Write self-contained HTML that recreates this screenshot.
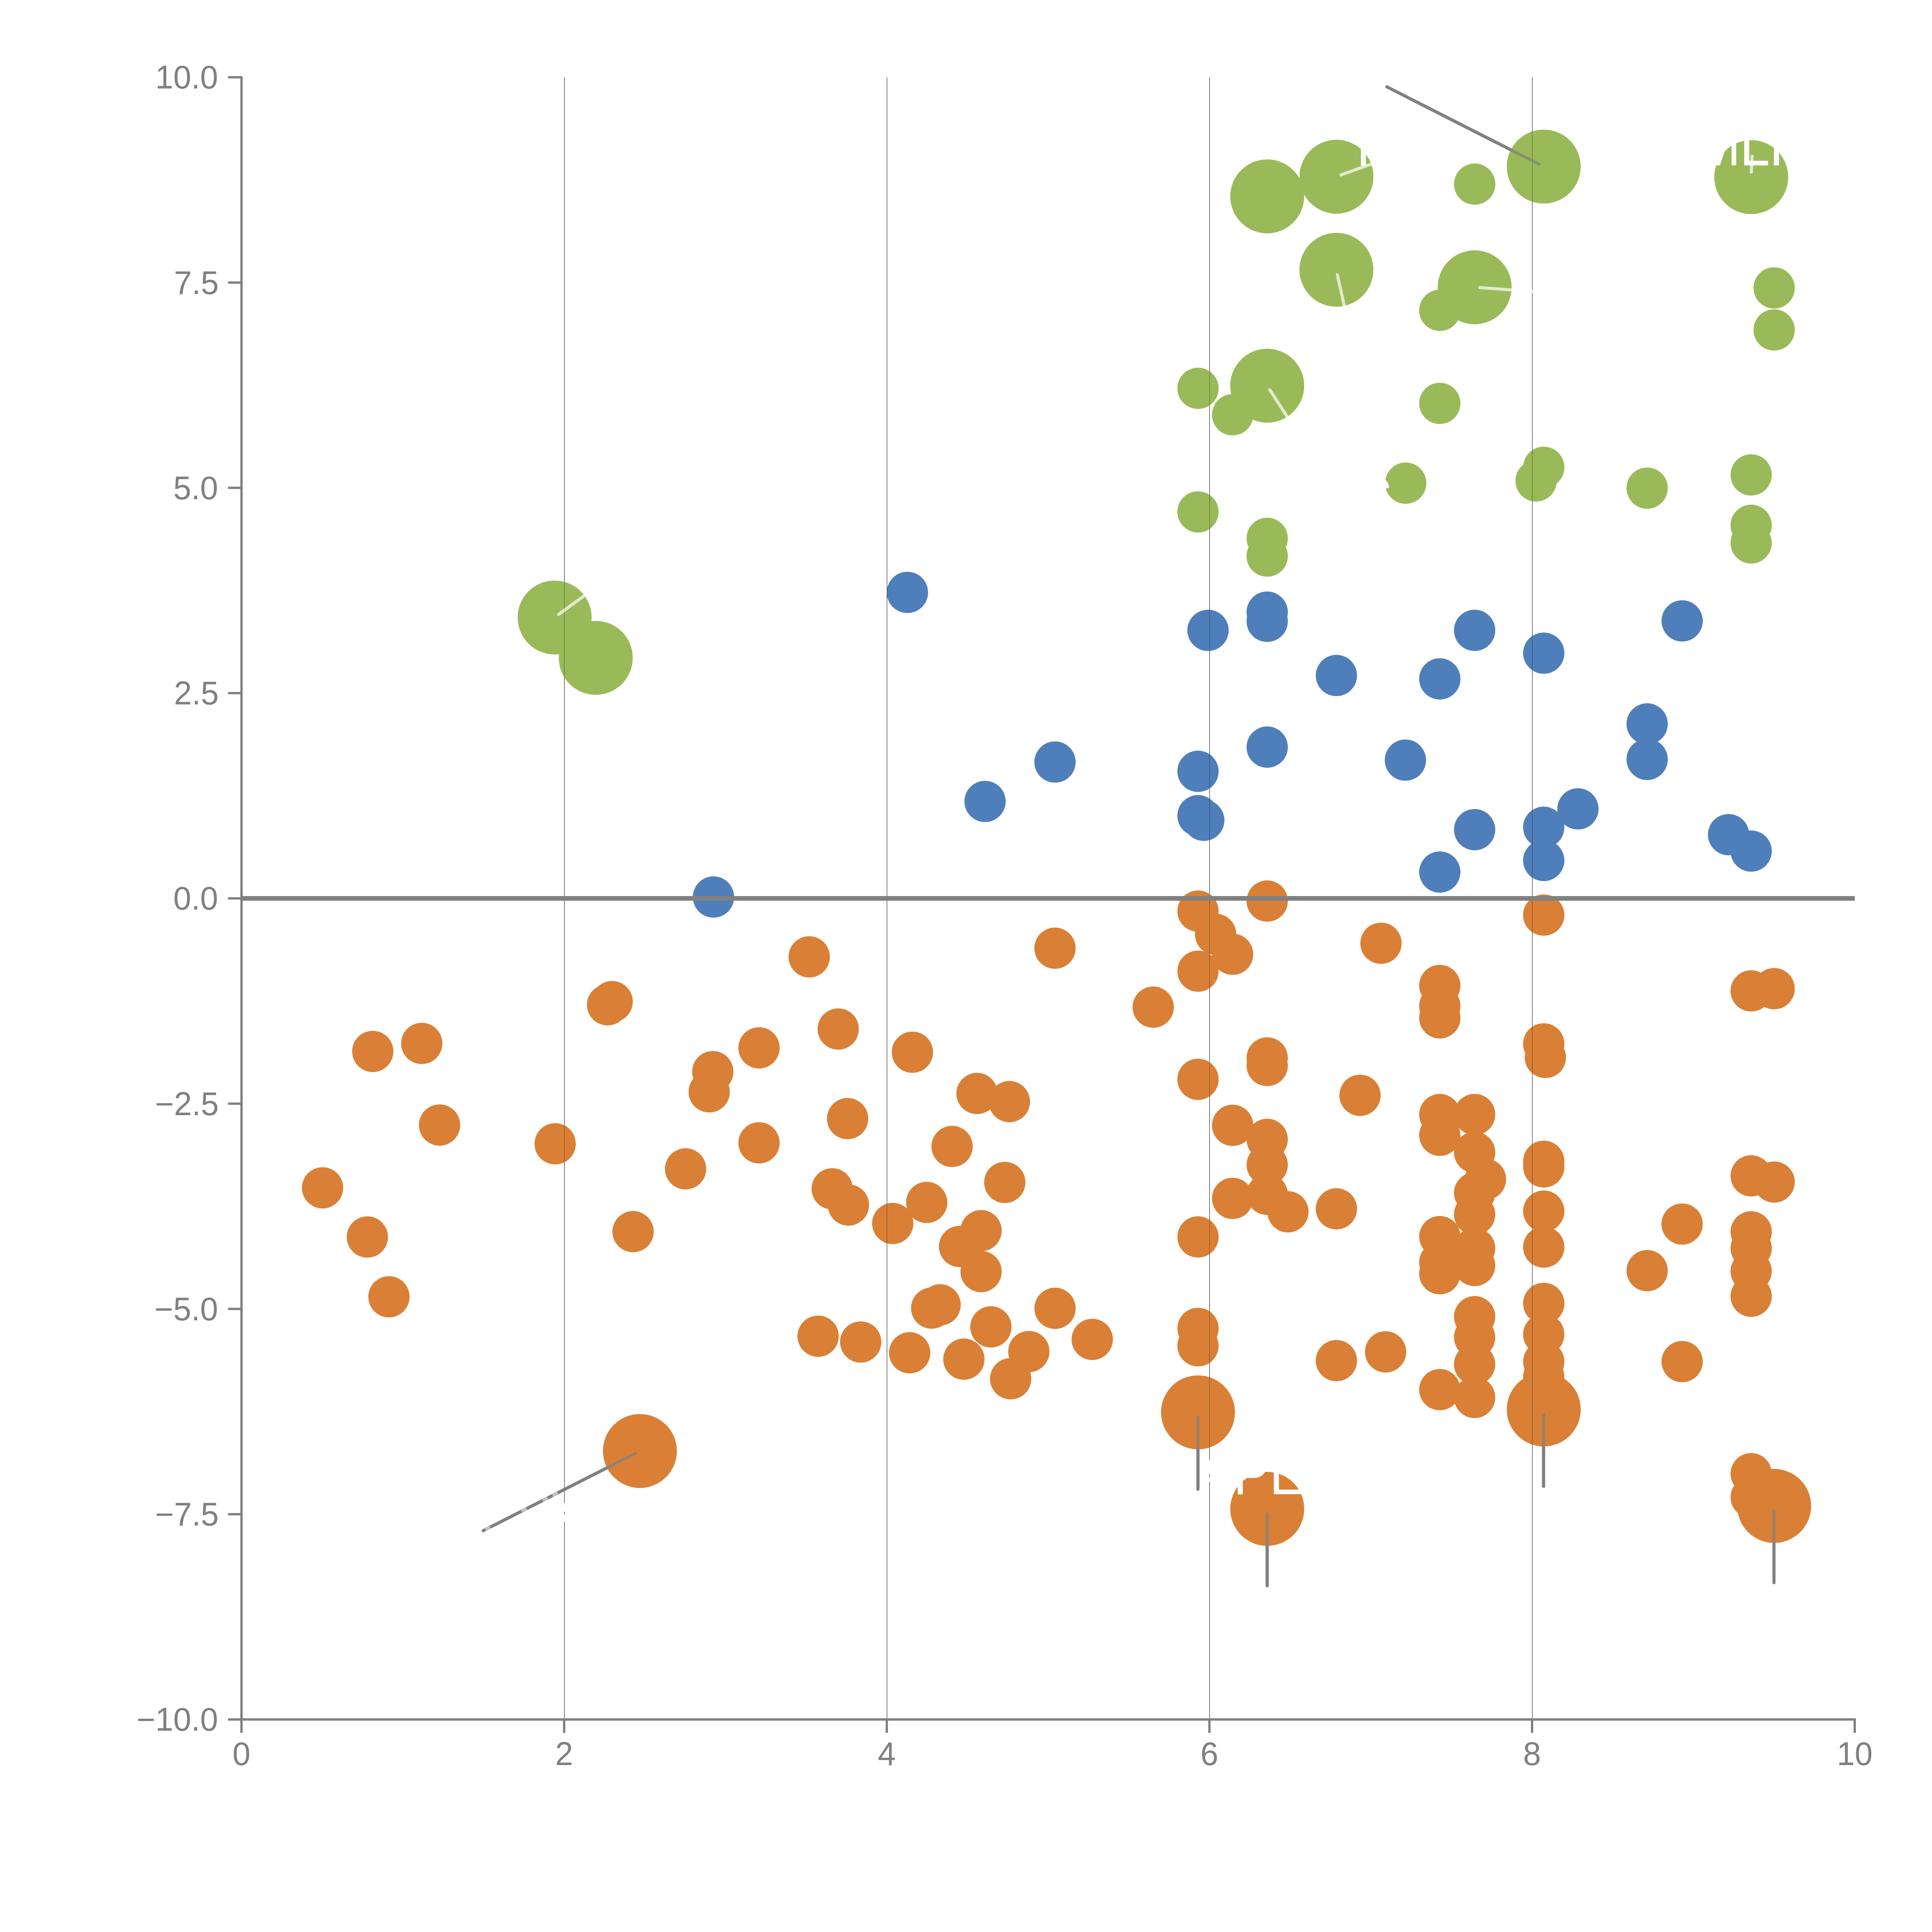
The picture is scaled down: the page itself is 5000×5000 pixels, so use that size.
<!DOCTYPE html>
<html><head><meta charset="utf-8"><title>chart</title>
<style>html,body{margin:0;padding:0;background:#fff}svg{display:block}text{font-family:"Liberation Sans",sans-serif}</style></head><body>
<svg width="5000" height="5000" viewBox="0 0 5000 5000">
<rect width="5000" height="5000" fill="#fff"/>
<g fill="#000">
<rect x="1460" y="200" width="1" height="4250"/>
<rect x="2295" y="200" width="1" height="4250"/>
<rect x="3130" y="200" width="1" height="4250"/>
<rect x="3965" y="200" width="1" height="4250"/>
</g>
<g stroke="#808080" stroke-width="8" stroke-linecap="round">
<line x1="3589.3" y1="224.8" x2="3983" y2="424.8"/>
<line x1="1250.5" y1="3961.5" x2="1643.9" y2="3761.7"/>
<line x1="3994.7" y1="3661.2" x2="3994.7" y2="3846.6"/>
<line x1="4591" y1="3910.8" x2="4591" y2="4096"/>
<line x1="3100.3" y1="3668.5" x2="3100.3" y2="3854.3"/>
<line x1="3279.4" y1="3917.8" x2="3279.4" y2="4103.8"/>
</g>
<g fill="#9aba59">
<circle cx="3279.5" cy="508.2" r="95.7"/>
<circle cx="3458.7" cy="457.3" r="95.7"/>
<circle cx="3458.6" cy="698.2" r="95.7"/>
<circle cx="3816.4" cy="743.5" r="95.7"/>
<circle cx="3279.5" cy="998.2" r="95.7"/>
<circle cx="3995.2" cy="431.1" r="95.7"/>
<circle cx="4532.2" cy="458.4" r="95.7"/>
<circle cx="1435.4" cy="1598.1" r="95.7"/>
<circle cx="1541.8" cy="1702.5" r="95.7"/>
</g>
<g fill="#9aba59">
<circle cx="3816.5" cy="476.5" r="53.4"/>
<circle cx="3726.2" cy="803.2" r="53.4"/>
<circle cx="3100.4" cy="1005" r="53.4"/>
<circle cx="3190" cy="1073.4" r="53.4"/>
<circle cx="3726.2" cy="1043.9" r="53.4"/>
<circle cx="4591.5" cy="745.2" r="53.4"/>
<circle cx="4591.5" cy="853.9" r="53.4"/>
<circle cx="3995.2" cy="1209.4" r="53.4"/>
<circle cx="3975.4" cy="1244.6" r="53.4"/>
<circle cx="4262.8" cy="1263.3" r="53.4"/>
<circle cx="4532" cy="1229.1" r="53.4"/>
<circle cx="4532" cy="1359.5" r="53.4"/>
<circle cx="4532" cy="1405.1" r="53.4"/>
<circle cx="3638" cy="1250.4" r="53.4"/>
<circle cx="3100.4" cy="1324.8" r="53.4"/>
<circle cx="3279.5" cy="1393.2" r="53.4"/>
<circle cx="3279.5" cy="1439.2" r="53.4"/>
</g>
<g fill="#4e7fbb">
<circle cx="4353.4" cy="1606.9" r="53.4"/>
<circle cx="3995.2" cy="1690.3" r="53.4"/>
<circle cx="4262.8" cy="1873.5" r="53.4"/>
<circle cx="4262.8" cy="1965.3" r="53.4"/>
<circle cx="4083.7" cy="2093.4" r="53.4"/>
<circle cx="3995.2" cy="2141" r="53.4"/>
<circle cx="3995.2" cy="2226.9" r="53.4"/>
<circle cx="4473.5" cy="2160.1" r="53.4"/>
<circle cx="4532" cy="2202.6" r="53.4"/>
<circle cx="3279.5" cy="1584.2" r="53.4"/>
<circle cx="3279.5" cy="1608" r="53.4"/>
<circle cx="3126.3" cy="1631.3" r="53.4"/>
<circle cx="3816.3" cy="1631.3" r="53.4"/>
<circle cx="3458.6" cy="1748.2" r="53.4"/>
<circle cx="3726.2" cy="1757" r="53.4"/>
<circle cx="3279.5" cy="1933.5" r="53.4"/>
<circle cx="3637.2" cy="1967.2" r="53.4"/>
<circle cx="3100.4" cy="1996.2" r="53.4"/>
<circle cx="3100.4" cy="2111" r="53.4"/>
<circle cx="3115.4" cy="2122.9" r="53.4"/>
<circle cx="3816.3" cy="2147.2" r="53.4"/>
<circle cx="3726.2" cy="2256.9" r="53.4"/>
<circle cx="2348.4" cy="1533.2" r="53.4"/>
<circle cx="2730.4" cy="1972.2" r="53.4"/>
<circle cx="2549.3" cy="2074.1" r="53.4"/>
<circle cx="1846.5" cy="2321.4" r="53.4"/>
</g>
<g fill="#d98036">
<circle cx="3995.2" cy="2368.2" r="53.4"/>
<circle cx="4532" cy="2564.4" r="53.4"/>
<circle cx="4591.5" cy="2558.7" r="53.4"/>
<circle cx="3995.2" cy="2701.6" r="53.4"/>
<circle cx="3999.4" cy="2736.7" r="53.4"/>
<circle cx="3995.2" cy="3005.4" r="53.4"/>
<circle cx="3995.2" cy="3020" r="53.4"/>
<circle cx="3995.2" cy="3134.4" r="53.4"/>
<circle cx="3995.2" cy="3227.5" r="53.4"/>
<circle cx="3995.2" cy="3373.2" r="53.4"/>
<circle cx="3995.2" cy="3453.5" r="53.4"/>
<circle cx="3995.2" cy="3524.3" r="53.4"/>
<circle cx="3995.2" cy="3563" r="53.4"/>
<circle cx="4353.4" cy="3167.8" r="53.4"/>
<circle cx="4262.8" cy="3288.4" r="53.4"/>
<circle cx="4353.4" cy="3523.9" r="53.4"/>
<circle cx="4532" cy="3043.1" r="53.4"/>
<circle cx="4591.5" cy="3059.1" r="53.4"/>
<circle cx="4532" cy="3188" r="53.4"/>
<circle cx="4532" cy="3230.4" r="53.4"/>
<circle cx="4532" cy="3290" r="53.4"/>
<circle cx="4532" cy="3354.7" r="53.4"/>
<circle cx="4532" cy="3813.9" r="53.4"/>
<circle cx="4532" cy="3875" r="53.4"/>
<circle cx="3100.4" cy="2358" r="53.4"/>
<circle cx="3279.5" cy="2332" r="53.4"/>
<circle cx="3146" cy="2418" r="53.4"/>
<circle cx="3190" cy="2469.7" r="53.4"/>
<circle cx="3100.4" cy="2513.3" r="53.4"/>
<circle cx="3574" cy="2441.2" r="53.4"/>
<circle cx="3726.2" cy="2550.4" r="53.4"/>
<circle cx="3726.2" cy="2603.2" r="53.4"/>
<circle cx="3726.2" cy="2634.3" r="53.4"/>
<circle cx="2984.5" cy="2606.5" r="53.4"/>
<circle cx="3279.5" cy="2737.8" r="53.4"/>
<circle cx="3279.5" cy="2757.5" r="53.4"/>
<circle cx="3100.4" cy="2793.3" r="53.4"/>
<circle cx="3519.7" cy="2834.6" r="53.4"/>
<circle cx="3726.2" cy="2884.5" r="53.4"/>
<circle cx="3816.3" cy="2884.3" r="53.4"/>
<circle cx="3190" cy="2912.4" r="53.4"/>
<circle cx="3279.5" cy="2948.7" r="53.4"/>
<circle cx="3279.5" cy="3014.5" r="53.4"/>
<circle cx="3279.5" cy="3091" r="53.4"/>
<circle cx="3190" cy="3101.4" r="53.4"/>
<circle cx="3333.2" cy="3136.1" r="53.4"/>
<circle cx="3458.6" cy="3128.5" r="53.4"/>
<circle cx="3100.4" cy="3201.2" r="53.4"/>
<circle cx="3100.4" cy="3437.9" r="53.4"/>
<circle cx="3100.4" cy="3482.9" r="53.4"/>
<circle cx="3458.6" cy="3521.3" r="53.4"/>
<circle cx="3585.9" cy="3498.6" r="53.4"/>
<circle cx="3726.2" cy="2938.1" r="53.4"/>
<circle cx="3816.3" cy="2982.4" r="53.4"/>
<circle cx="3844.4" cy="3052" r="53.4"/>
<circle cx="3816.3" cy="3087.2" r="53.4"/>
<circle cx="3816.3" cy="3143" r="53.4"/>
<circle cx="3726.2" cy="3200.3" r="53.4"/>
<circle cx="3816.3" cy="3230.8" r="53.4"/>
<circle cx="3726.2" cy="3267" r="53.4"/>
<circle cx="3816.3" cy="3275.2" r="53.4"/>
<circle cx="3726.2" cy="3296.4" r="53.4"/>
<circle cx="3816.3" cy="3407.5" r="53.4"/>
<circle cx="3816.3" cy="3461" r="53.4"/>
<circle cx="3816.3" cy="3530.8" r="53.4"/>
<circle cx="3726.2" cy="3596.4" r="53.4"/>
<circle cx="3816.3" cy="3616.6" r="53.4"/>
<circle cx="964.7" cy="2721.1" r="53.4"/>
<circle cx="1091.5" cy="2700.4" r="53.4"/>
<circle cx="1137.6" cy="2911.6" r="53.4"/>
<circle cx="1436.7" cy="2960.2" r="53.4"/>
<circle cx="834.8" cy="3074.1" r="53.4"/>
<circle cx="950.7" cy="3201.4" r="53.4"/>
<circle cx="1006.6" cy="3356.1" r="53.4"/>
<circle cx="1584.3" cy="2592.2" r="53.4"/>
<circle cx="1572.4" cy="2600.5" r="53.4"/>
<circle cx="1638.4" cy="3187.5" r="53.4"/>
<circle cx="2094.2" cy="2476.3" r="53.4"/>
<circle cx="2169.3" cy="2663.1" r="53.4"/>
<circle cx="1964.3" cy="2711.8" r="53.4"/>
<circle cx="1844.7" cy="2773.4" r="53.4"/>
<circle cx="1835.4" cy="2825.7" r="53.4"/>
<circle cx="2361.3" cy="2723.2" r="53.4"/>
<circle cx="2193.6" cy="2895" r="53.4"/>
<circle cx="1964.3" cy="2957.7" r="53.4"/>
<circle cx="1774.3" cy="3025" r="53.4"/>
<circle cx="2464" cy="2967" r="53.4"/>
<circle cx="2153.7" cy="3076.7" r="53.4"/>
<circle cx="2195.7" cy="3118.6" r="53.4"/>
<circle cx="2398.3" cy="3111.9" r="53.4"/>
<circle cx="2310.4" cy="3166.3" r="53.4"/>
<circle cx="2528.5" cy="2830" r="53.4"/>
<circle cx="2483.3" cy="3225.9" r="53.4"/>
<circle cx="2730.3" cy="2454" r="53.4"/>
<circle cx="2612.3" cy="2851" r="53.4"/>
<circle cx="2600.4" cy="3060.1" r="53.4"/>
<circle cx="2539" cy="3185" r="53.4"/>
<circle cx="2539" cy="3290.8" r="53.4"/>
<circle cx="2117.3" cy="3458.1" r="53.4"/>
<circle cx="2227.5" cy="3473.1" r="53.4"/>
<circle cx="2354.2" cy="3501" r="53.4"/>
<circle cx="2494.5" cy="3517.5" r="53.4"/>
<circle cx="2433" cy="3377" r="53.4"/>
<circle cx="2411.2" cy="3385.5" r="53.4"/>
<circle cx="2564.4" cy="3434" r="53.4"/>
<circle cx="2730.4" cy="3386" r="53.4"/>
<circle cx="2826.7" cy="3466.3" r="53.4"/>
<circle cx="2662.6" cy="3497.8" r="53.4"/>
<circle cx="2615.5" cy="3568.2" r="53.4"/>
</g>
<g fill="#d98036">
<circle cx="3995.2" cy="3647.7" r="95.7"/>
<circle cx="4591.5" cy="3897.3" r="95.7"/>
<circle cx="3100.4" cy="3655.1" r="95.7"/>
<circle cx="3279.6" cy="3905" r="95.7"/>
<circle cx="1656.1" cy="3755.2" r="95.7"/>
</g>
<g fill="#000" fill-opacity="0.5">
<rect x="1460" y="200" width="1" height="4250"/>
<rect x="2295" y="200" width="1" height="4250"/>
<rect x="3130" y="200" width="1" height="4250"/>
<rect x="3965" y="200" width="1" height="4250"/>
</g>
<g fill="#fff" font-size="140px">
<text transform="translate(3098.5,3866.6) scale(1,1.13)" x="0" y="0">AP</text>
<text transform="translate(3285.2,3866.6) scale(1,1.13)" x="0" y="0">L</text>
<rect x="3355" y="3854.8" width="13" height="11.8"/>
<text transform="translate(4388.1,428.1) scale(1,1.13)" x="0" y="0">M</text>
<text transform="translate(4502.5,428.1) scale(1,1.13)" x="0" y="0">L</text>
<text transform="translate(4578,428.1) scale(1,1.13)" x="0" y="0">I</text>
<text transform="translate(3509,428.8) scale(1,1.13)" x="0" y="0">I</text>
</g>
<g stroke="#808080" stroke-width="8" stroke-linecap="round" stroke-opacity="0.7">
<line x1="3589.3" y1="224.8" x2="3983" y2="424.8"/>
<line x1="1250.5" y1="3961.5" x2="1643.9" y2="3761.7"/>
<line x1="3994.7" y1="3661.2" x2="3994.7" y2="3846.6"/>
<line x1="4591" y1="3910.8" x2="4591" y2="4096"/>
<line x1="3100.3" y1="3668.5" x2="3100.3" y2="3854.3"/>
<line x1="3279.4" y1="3917.8" x2="3279.4" y2="4103.8"/>
</g>
<g stroke="#fff" stroke-width="8" stroke-linecap="round" stroke-opacity="0.7">
<line x1="1445.8" y1="1589.9" x2="1530" y2="1528.7"/>
<line x1="3470.7" y1="452.6" x2="3560" y2="420.9"/>
<line x1="4532.5" y1="445.2" x2="4534.5" y2="404.3"/>
<line x1="3461.1" y1="711.2" x2="3481" y2="800.5"/>
<line x1="3286.3" y1="1008.9" x2="3336" y2="1085.9"/>
<line x1="3829.7" y1="744.2" x2="3975" y2="755.1"/>
</g>
<g stroke="#c0c0c0" stroke-width="8">
<line x1="1256.0" y1="3958.7" x2="1268.5" y2="3952.4"/>
<line x1="1349.6" y1="3911.2" x2="1363.0" y2="3904.4"/>
<line x1="1404.5" y1="3883.3" x2="1417.4" y2="3876.7"/>
<line x1="1430.3" y1="3870.2" x2="1443.3" y2="3863.6"/>
</g>
<g fill="#fff"><rect x="1458" y="3890" width="5" height="22"/><rect x="1458" y="3918.7" width="5" height="19.5"/></g>
<path d="M3584,1240 Q3595,1250 3595,1263.2 L3584,1264 Z" fill="#fff"/>
<rect x="625" y="2319" width="4175" height="12" fill="#808080"/>
<g fill="#808080">
<rect x="622" y="197" width="6" height="4256"/>
<rect x="622" y="4447" width="4181" height="6"/>
<rect x="590.3" y="197.00" width="34.7" height="6"/>
<rect x="590.3" y="728.25" width="34.7" height="6"/>
<rect x="590.3" y="1259.50" width="34.7" height="6"/>
<rect x="590.3" y="1790.75" width="34.7" height="6"/>
<rect x="590.3" y="2322.00" width="34.7" height="6"/>
<rect x="590.3" y="2853.25" width="34.7" height="6"/>
<rect x="590.3" y="3384.50" width="34.7" height="6"/>
<rect x="590.3" y="3915.75" width="34.7" height="6"/>
<rect x="590.3" y="4447.00" width="34.7" height="6"/>
<rect x="622" y="4450" width="6" height="34.7"/>
<rect x="1457" y="4450" width="6" height="34.7"/>
<rect x="2292" y="4450" width="6" height="34.7"/>
<rect x="3127" y="4450" width="6" height="34.7"/>
<rect x="3962" y="4450" width="6" height="34.7"/>
<rect x="4797" y="4450" width="6" height="34.7"/>
</g>
<g fill="#808080" font-size="83.33px">
<text transform="translate(564.3,229.30) scale(1,1.022)" text-anchor="end">10.0</text>
<text transform="translate(566,760.55) scale(1,1.022)" text-anchor="end">7.5</text>
<text transform="translate(564.3,1291.80) scale(1,1.022)" text-anchor="end">5.0</text>
<text transform="translate(566,1823.05) scale(1,1.022)" text-anchor="end">2.5</text>
<text transform="translate(564.3,2354.30) scale(1,1.022)" text-anchor="end">0.0</text>
<text transform="translate(566,2885.55) scale(1,1.022)" text-anchor="end">−2.5</text>
<text transform="translate(564.3,3416.80) scale(1,1.022)" text-anchor="end">−5.0</text>
<text transform="translate(566,3948.05) scale(1,1.022)" text-anchor="end">−7.5</text>
<text transform="translate(564.3,4479.30) scale(1,1.022)" text-anchor="end">−10.0</text>
<text transform="translate(625,4567.8) scale(1,1.022)" text-anchor="middle">0</text>
<text transform="translate(1460,4567.8) scale(1,1.022)" text-anchor="middle">2</text>
<text transform="translate(2295,4567.8) scale(1,1.022)" text-anchor="middle">4</text>
<text transform="translate(3130,4567.8) scale(1,1.022)" text-anchor="middle">6</text>
<text transform="translate(3965,4567.8) scale(1,1.022)" text-anchor="middle">8</text>
<text transform="translate(4800,4567.8) scale(1,1.022)" text-anchor="middle">10</text>
</g>
</svg></body></html>
